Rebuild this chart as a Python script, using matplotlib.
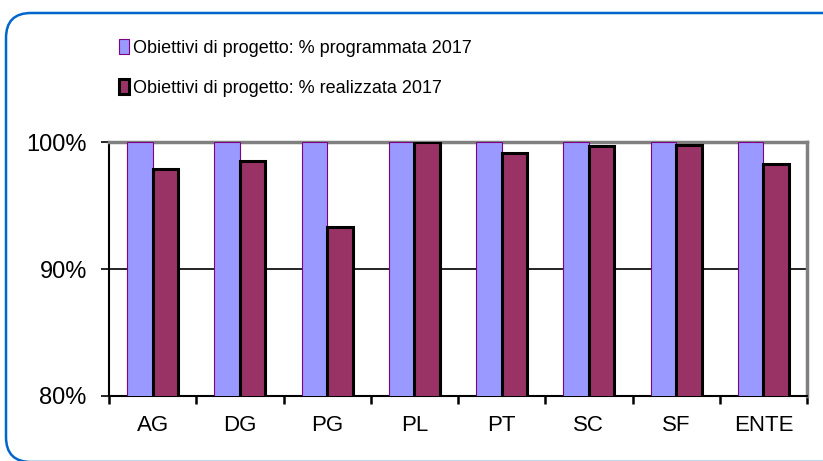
import numpy as np
import matplotlib
matplotlib.use('Agg')
import matplotlib.pyplot as plt
from matplotlib.patches import FancyBboxPatch

plt.rcParams['font.family'] = ['Liberation Sans', 'DejaVu Sans']

categories = ['AG', 'DG', 'PG', 'PL', 'PT', 'SC', 'SF', 'ENTE']
programmata = [100, 100, 100, 100, 100, 100, 100, 100]
realizzata = [97.85, 98.5, 93.3, 100, 99.1, 99.7, 99.8, 98.3]
labels = ['Obiettivi di progetto: % programmata 2017',
          'Obiettivi di progetto: % realizzata 2017']
yticks = [80, 90, 100]

fig = plt.figure(figsize=(8.23, 4.61), dpi=100)
ax = fig.add_axes([109 / 823, 65 / 461, 698 / 823, 254 / 461])

x = np.arange(len(categories))
w = 0.292
ax.bar(x - w / 2, programmata, w, bottom=0, color='#9999FF', edgecolor='#800080',
       linewidth=0.8, label=labels[0], zorder=3)
ax.bar(x + w / 2, realizzata, w, color='#993366', edgecolor='black',
       linewidth=2.2, label=labels[1], zorder=3)

ax.set_xlim(-0.5, len(categories) - 0.5)
ax.set_ylim(80, 100)
ax.set_yticks(yticks)
ax.set_yticklabels(['%d%%' % v for v in yticks], fontsize=17)
ax.yaxis.grid(True, color='black', linewidth=1.2, zorder=1)
ax.tick_params(axis='y', length=6, width=1.2, pad=10, direction='out')

ax.set_xticks(x)
ax.set_xticklabels(categories, fontsize=16)
ax.set_xticks(np.arange(len(categories) + 1) - 0.5, minor=True)
ax.tick_params(axis='x', which='major', length=0, pad=14)
ax.tick_params(axis='x', which='minor', length=6, width=1.8, direction='out')

for s in ['top', 'right']:
    ax.spines[s].set_color('#808080')
    ax.spines[s].set_linewidth(2.5)
for s in ['left', 'bottom']:
    ax.spines[s].set_color('black')
    ax.spines[s].set_linewidth(1.5)

leg = fig.legend(loc='upper left', bbox_to_anchor=(119 / 823, 1 - 39 / 461),
                 frameon=False, borderpad=0, borderaxespad=0,
                 handlelength=0.55, handleheight=0.9, handletextpad=0.2,
                 labelspacing=1.25,
                 prop={'family': ['Liberation Sans Narrow', 'Liberation Sans'], 'size': 13})

# rounded outer frame
frame = FancyBboxPatch((0.06, -0.01), 9.0, 4.48 + 0.01,
                       boxstyle='round,pad=0,rounding_size=0.25',
                       transform=fig.dpi_scale_trans, fill=False,
                       edgecolor='#0066CC', linewidth=1.8, clip_on=False)
fig.patches.append(frame)

plt.savefig('out.png', dpi=100)
